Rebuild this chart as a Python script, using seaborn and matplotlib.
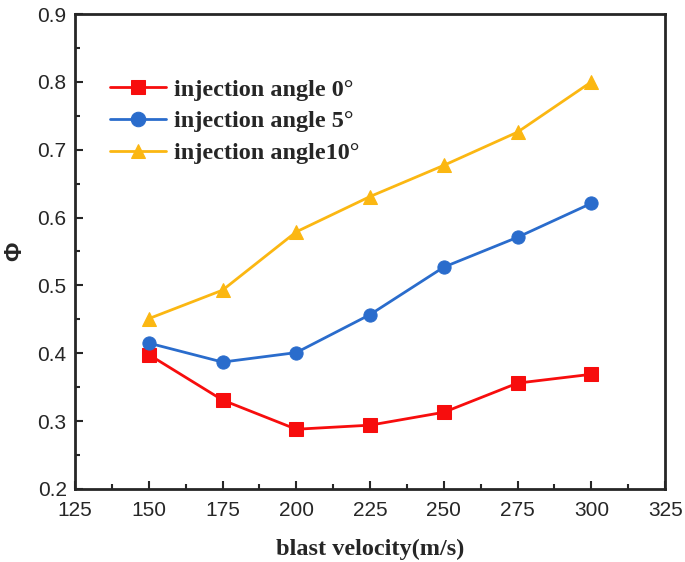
import matplotlib
matplotlib.use("Agg")
import matplotlib.pyplot as plt
import seaborn as sns
import pandas as pd
from matplotlib.ticker import MultipleLocator

velocity = [150, 175, 200, 225, 250, 275, 300]
angle0 = [0.398, 0.331, 0.288, 0.294, 0.313, 0.356, 0.369]
angle5 = [0.415, 0.387, 0.401, 0.457, 0.527, 0.571, 0.621]
angle10 = [0.451, 0.493, 0.579, 0.631, 0.677, 0.726, 0.800]
series_names = ["injection angle 0°", "injection angle 5°", "injection angle10°"]
colors = ["#f70d0d", "#2a6ccc", "#fbb712"]
markers = ["s", "o", "^"]

rows = []
for name, vals in zip(series_names, [angle0, angle5, angle10]):
    for v, p in zip(velocity, vals):
        rows.append({"velocity": v, "phi": p, "series": name})
df = pd.DataFrame(rows)

sns.set_style("ticks")
plt.rcParams["font.family"] = ["Liberation Sans", "DejaVu Sans"]

fig = plt.figure(figsize=(6.85, 5.62), dpi=100)
ax = fig.add_axes([0.1095, 0.13, 0.8615, 0.845])

for name, c, m in zip(series_names, colors, markers):
    sub = df[df["series"] == name]
    sns.lineplot(data=sub, x="velocity", y="phi", ax=ax, color=c, marker=m,
                 markersize=9.5, markeredgecolor=c, linewidth=2, label=name)

ax.set_xlim(125, 325)
ax.set_ylim(0.2, 0.9)
ax.xaxis.set_major_locator(MultipleLocator(25))
ax.xaxis.set_minor_locator(MultipleLocator(12.5))
ax.yaxis.set_major_locator(MultipleLocator(0.1))
ax.yaxis.set_minor_locator(MultipleLocator(0.05))
ax.tick_params(which="both", direction="in", width=1.5, labelsize=15,
               top=False, right=False)
ax.tick_params(axis="x", which="major", length=6, pad=9)
ax.tick_params(axis="y", which="major", length=6, pad=6)
ax.tick_params(which="minor", length=3.5)
for sp in ax.spines.values():
    sp.set_linewidth(2)
    sp.set_visible(True)

ax.set_xlabel("blast velocity(m/s)", fontsize=17.5, fontweight="bold",
              family=["Liberation Serif"], labelpad=13)
ax.set_ylabel("Φ", fontsize=17, fontweight="bold", family=["Liberation Sans"])
ax.yaxis.set_label_coords(-0.102, 0.5)
ax.yaxis.label.set_va("center")

leg = ax.legend(loc="upper left", bbox_to_anchor=(0.022, 0.91), frameon=False,
                prop={"family": "Liberation Serif", "weight": "bold", "size": 17.5},
                handlelength=2.3, labelspacing=0.4, handletextpad=0.35,
                markerscale=1.1)

fig.savefig("out.png", dpi=100)
